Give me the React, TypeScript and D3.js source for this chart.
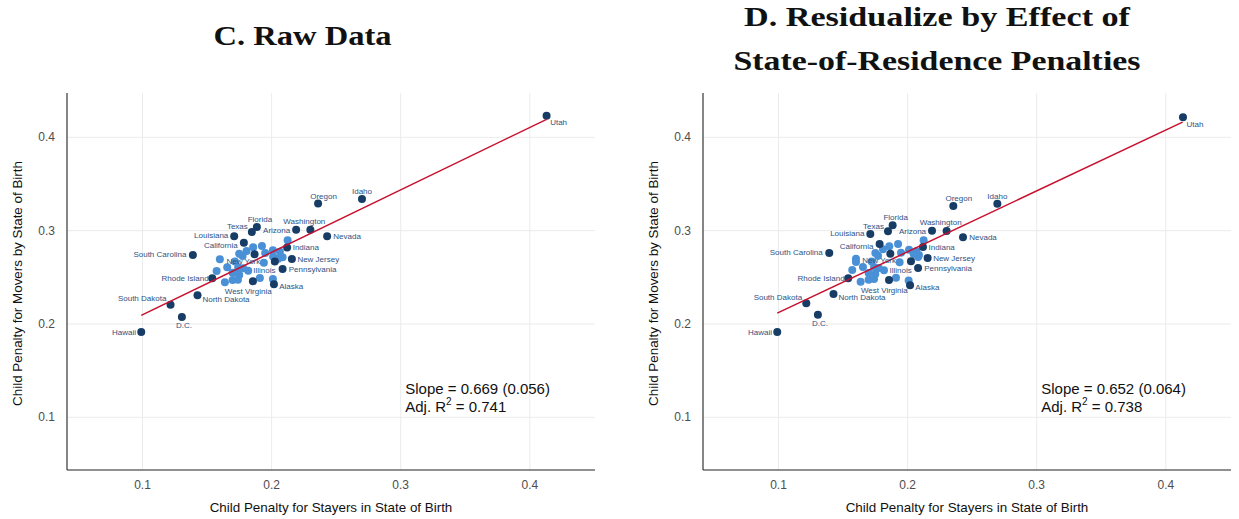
import React from "react";
import * as d3 from "d3";

// ---------- DATA ----------
const labeledStates = [
  "Utah", "Idaho", "Oregon", "Washington", "Arizona", "Nevada", "Florida", "Texas",
  "Louisiana", "California", "South Carolina", "Indiana", "New Jersey", "Pennsylvania",
  "Alaska", "Illinois", "New York", "West Virginia", "Rhode Island", "North Dakota",
  "South Dakota", "D.C.", "Hawaii",
];

// Panel C: raw data (x = stayers, y = movers)
const stayersC = [0.413, 0.270, 0.236, 0.230, 0.219, 0.243, 0.1886, 0.1847, 0.171, 0.1785, 0.139, 0.212, 0.2157, 0.2085, 0.2018, 0.2025, 0.1868, 0.1855, 0.154, 0.1426, 0.1217, 0.1305, 0.099];
const moversC = [0.423, 0.334, 0.329, 0.301, 0.301, 0.294, 0.304, 0.2986, 0.294, 0.287, 0.274, 0.282, 0.2697, 0.259, 0.2426, 0.2668, 0.2747, 0.2458, 0.249, 0.2308, 0.2207, 0.2075, 0.1914];
const otherStayersC = [0.2124, 0.1925, 0.1857, 0.1806, 0.1749, 0.1775, 0.195, 0.201, 0.2064, 0.2085, 0.2051, 0.194, 0.1599, 0.1656, 0.1574, 0.1741, 0.178, 0.1819, 0.1698, 0.1749, 0.1638, 0.1698, 0.1739, 0.1909, 0.201, 0.1741, 0.1716, 0.2012];
const otherMoversC = [0.2897, 0.2836, 0.2822, 0.2782, 0.2753, 0.2729, 0.2761, 0.279, 0.2775, 0.2715, 0.27, 0.2657, 0.2693, 0.2608, 0.2568, 0.2608, 0.2597, 0.2571, 0.255, 0.2525, 0.2447, 0.2472, 0.2475, 0.2493, 0.2482, 0.255, 0.2668, 0.2721];

// Panel D: residualized
const stayersD = [0.4133, 0.2695, 0.2354, 0.2302, 0.2189, 0.2429, 0.1884, 0.1848, 0.1711, 0.1783, 0.1393, 0.2119, 0.2155, 0.2081, 0.2019, 0.2026, 0.1866, 0.1856, 0.154, 0.1426, 0.1215, 0.1305, 0.099];
const moversD = [0.4214, 0.3289, 0.3265, 0.2997, 0.300, 0.2928, 0.3057, 0.2993, 0.2964, 0.2857, 0.2761, 0.2825, 0.2707, 0.260, 0.2414, 0.2671, 0.2753, 0.2471, 0.2489, 0.2322, 0.2221, 0.210, 0.1914];
const otherStayersD = [0.2124, 0.1926, 0.1858, 0.1809, 0.175, 0.1771, 0.1949, 0.2011, 0.2067, 0.2081, 0.2047, 0.1938, 0.16, 0.16, 0.1654, 0.1571, 0.174, 0.1776, 0.1817, 0.1698, 0.175, 0.1636, 0.1698, 0.174, 0.191, 0.2008, 0.1721, 0.2088];
const otherMoversD = [0.2896, 0.2857, 0.2832, 0.28, 0.2761, 0.2732, 0.2764, 0.2796, 0.2778, 0.2718, 0.275, 0.266, 0.27, 0.2664, 0.2611, 0.2579, 0.2611, 0.26, 0.2575, 0.2546, 0.2536, 0.2453, 0.2475, 0.2482, 0.2496, 0.2467, 0.2668, 0.2739];

// Fit lines (slope, intercept) and fitted range
const fitC = { slope: 0.669, intercept: 0.1430 };
const fitD = { slope: 0.652, intercept: 0.1470 };
const fitRange = [0.099, 0.413];

const ticks = [0.1, 0.2, 0.3, 0.4];
const tickLabels = ["0.1", "0.2", "0.3", "0.4"];

const statsC = { slope: "0.669", se: "0.056", r2: "0.741" };
const statsD = { slope: "0.652", se: "0.064", r2: "0.738" };

// ---------- LAYOUT (label offsets in px, text centre relative to point) ----------
const labelOffset: Record<string, [number, number]> = {
  Utah: [12, 6.5], Idaho: [0, -8], Oregon: [5.5, -8], Washington: [-6, -9],
  Arizona: [-19.5, 0], Nevada: [20, 0], Florida: [3, -8], Texas: [-14.5, -5.5],
  Louisiana: [-23, -1], California: [-23, 2.5], "South Carolina": [-33, -1],
  Indiana: [18.7, 0], "New Jersey": [26.4, 0.5], Pennsylvania: [30, 0],
  Alaska: [17.3, 1.3], Illinois: [-10.4, 8.3], "New York": [-11.2, 6.7],
  "West Virginia": [-4.7, 9.5], "Rhode Island": [-27.2, 0], "North Dakota": [28.5, 3.4],
  "South Dakota": [-28.4, -6.2], "D.C.": [2.2, 8.2], Hawaii: [-17.3, 0.5],
};

const DARK = "#173d66";
const LIGHT = "#4a90d6";
const RED = "#c8102e";
const LABEL = "#2f5282";
const SANS = "'Liberation Sans', Arial, Helvetica, sans-serif";
const SERIF = "'Liberation Serif', 'Times New Roman', serif";

const xDomain = [0.0415, 0.4505];
const yDomain = [0.0435, 0.4475];
const TOP = 93;
const BOTTOM = 470;
const PW = 528;

function Panel({ left, sx, sy, ox, oy, fit, stats }: any) {
  const x = d3.scaleLinear().domain(xDomain).range([left, left + PW]);
  const y = d3.scaleLinear().domain(yDomain).range([BOTTOM, TOP]);
  const line = d3.line<number>().x((v) => x(v)).y((v) => y(fit.intercept + fit.slope * v));
  const cx = left + PW / 2;
  const cy = (TOP + BOTTOM) / 2 + 2;
  return (
    <g>
      {ticks.map((t) => (
        <line key={"gx" + t} x1={x(t)} x2={x(t)} y1={TOP} y2={BOTTOM} stroke="#ebebeb" strokeWidth={1} />
      ))}
      {ticks.map((t) => (
        <line key={"gy" + t} x1={left} x2={left + PW} y1={y(t)} y2={y(t)} stroke="#ebebeb" strokeWidth={1} />
      ))}
      <line x1={left} x2={left} y1={TOP} y2={BOTTOM} stroke="#222" strokeWidth={1.1} />
      <line x1={left} x2={left + PW} y1={BOTTOM} y2={BOTTOM} stroke="#222" strokeWidth={1.1} />
      {ticks.map((t, i) => (
        <text key={"tx" + t} x={x(t)} y={489} textAnchor="middle" fontFamily={SANS} fontSize={12} fill="#4d4d4d">{tickLabels[i]}</text>
      ))}
      {ticks.map((t, i) => (
        <text key={"ty" + t} x={left - 12} y={y(t) + 4} textAnchor="end" fontFamily={SANS} fontSize={12} fill="#4d4d4d">{tickLabels[i]}</text>
      ))}
      <text x={cx} y={512} textAnchor="middle" fontFamily={SANS} fontSize={13.4} fill="#111">Child Penalty for Stayers in State of Birth</text>
      <text transform={`translate(${left - 45},${cy}) rotate(-90)`} textAnchor="middle" fontFamily={SANS} fontSize={13.4} fill="#111">Child Penalty for Movers by State of Birth</text>
      {ox.map((v: number, i: number) => (
        <circle key={"o" + i} cx={x(v)} cy={y(oy[i])} r={4} fill={LIGHT} />
      ))}
      {sx.map((v: number, i: number) => (
        <circle key={"s" + i} cx={x(v)} cy={y(sy[i])} r={4} fill={DARK} />
      ))}
      <path d={line(fitRange) || ""} stroke={RED} strokeWidth={1.5} fill="none" />
      {labeledStates.map((s, i) => {
        const [dx, dy] = labelOffset[s];
        return (
          <text key={"l" + s} x={x(sx[i]) + dx} y={y(sy[i]) + dy + 3} textAnchor="middle" fontFamily={SANS} fontSize={8} fill={LABEL}>{s}</text>
        );
      })}
      <text x={x(0.3035)} y={393.5} fontFamily={SANS} fontSize={15} fill="#111">{`Slope = ${stats.slope} (${stats.se})`}</text>
      <text x={x(0.3035)} y={411.5} fontFamily={SANS} fontSize={15} fill="#111">
        Adj. R<tspan dy={-7} fontSize={10}>2</tspan><tspan dy={7}>{` = ${stats.r2}`}</tspan>
      </text>
    </g>
  );
}

export default function App() {
  return (
    <svg width={1239} height={519} style={{ position: "absolute", left: 0, top: 0, background: "#fff" }}>
      <rect width={1239} height={519} fill="#fff" />
      <text x={302.5} y={45} textAnchor="middle" fontFamily={SERIF} fontWeight="bold" fontSize={28} textLength={178} lengthAdjust="spacingAndGlyphs" fill="#111">C. Raw Data</text>
      <text x={937} y={25.5} textAnchor="middle" fontFamily={SERIF} fontWeight="bold" fontSize={28} textLength={386} lengthAdjust="spacingAndGlyphs" fill="#111">D. Residualize by Effect of</text>
      <text x={937} y={70} textAnchor="middle" fontFamily={SERIF} fontWeight="bold" fontSize={28} textLength={407} lengthAdjust="spacingAndGlyphs" fill="#111">State-of-Residence Penalties</text>
      <Panel left={67} sx={stayersC} sy={moversC} ox={otherStayersC} oy={otherMoversC} fit={fitC} stats={statsC} />
      <Panel left={703} sx={stayersD} sy={moversD} ox={otherStayersD} oy={otherMoversD} fit={fitD} stats={statsD} />
    </svg>
  );
}
